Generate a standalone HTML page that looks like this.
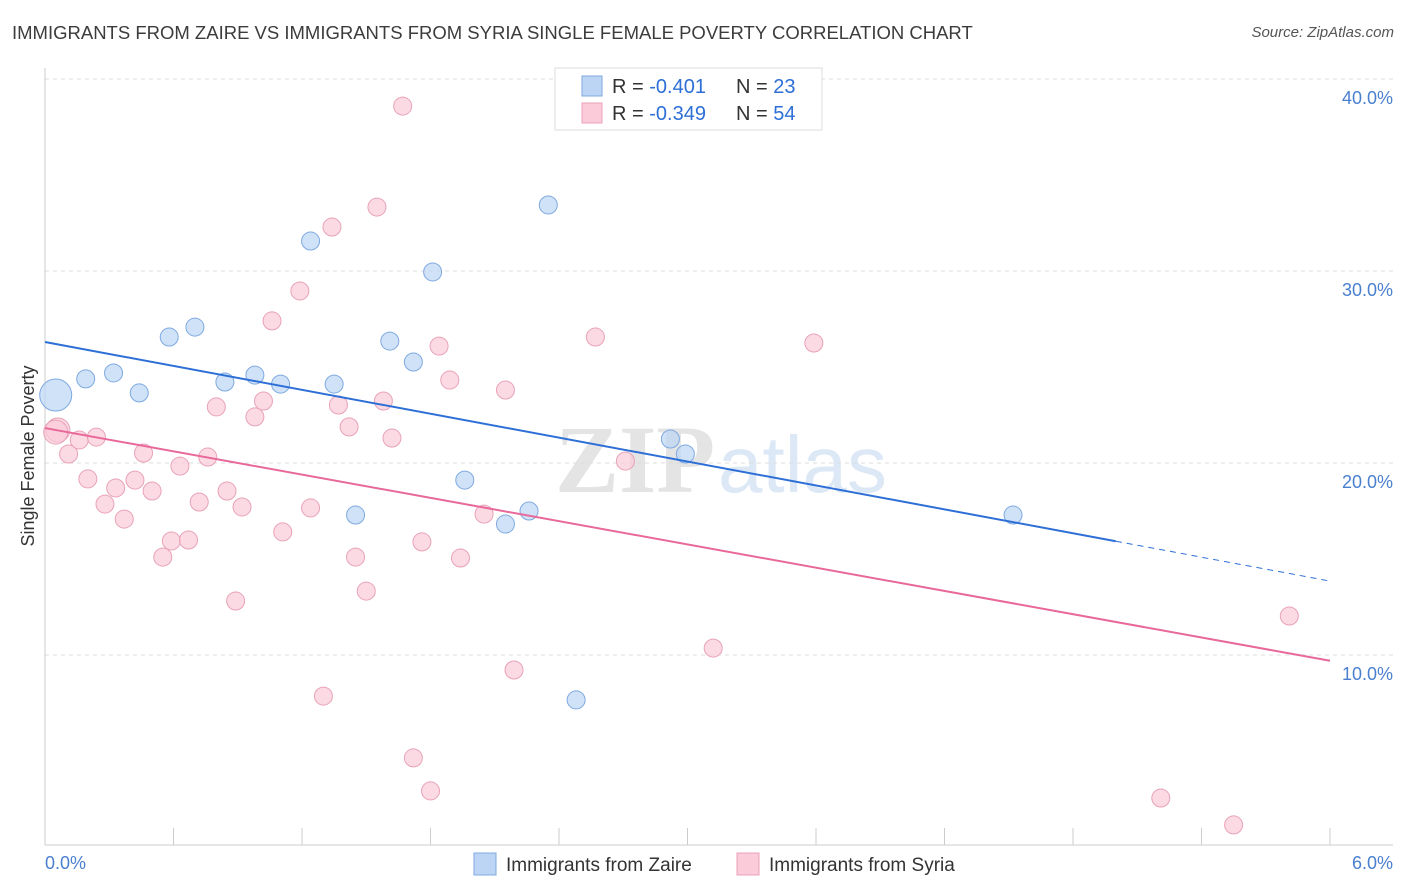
<!DOCTYPE html>
<html><head><meta charset="utf-8"><style>
body{margin:0;background:#fff;font-family:"Liberation Sans",sans-serif;}
#wrap{position:relative;width:1406px;height:892px;overflow:hidden;}
.t{position:absolute;white-space:nowrap;}
</style></head><body>
<div id="wrap">
<div class="t" style="left:12px;top:22px;font-size:18.5px;color:#3c3c3c;">IMMIGRANTS FROM ZAIRE VS IMMIGRANTS FROM SYRIA SINGLE FEMALE POVERTY CORRELATION CHART</div>
<div class="t" style="right:12px;top:24px;font-size:15px;color:#555;font-style:italic;">Source: ZipAtlas.com</div>
<svg id="svg" width="1406" height="892" style="position:absolute;left:0;top:0"></svg>
</div>
<script>
const xVals0 = [0.05,0.19,0.32,0.44,0.58,0.70,0.84,0.98,1.10,1.24,1.35,1.45,1.61,1.72,1.81,1.96,2.15,2.26,2.35,2.48,2.92,2.99,4.52];
const yVals0 = [23.54,24.38,24.69,23.65,26.56,27.08,24.22,24.58,24.11,31.56,24.11,17.29,26.35,25.26,29.95,19.11,16.82,17.50,33.44,7.66,21.25,20.47,17.29];
const xVals1 = [0.06,0.11,0.16,0.20,0.24,0.28,0.33,0.37,0.42,0.46,0.50,0.55,0.59,0.63,0.67,0.72,0.76,0.80,0.85,0.89,0.92,0.98,1.02,1.06,1.11,1.19,1.24,1.30,1.34,1.37,1.42,1.45,1.50,1.55,1.58,1.62,1.67,1.72,1.76,1.80,1.84,1.89,1.94,2.05,2.15,2.19,2.57,2.71,3.12,3.59,5.21,5.55,5.81,0.05];
const yVals1 = [21.72,20.47,21.20,19.17,21.35,17.86,18.70,17.08,19.11,20.52,18.54,15.10,15.94,19.84,15.99,17.97,20.31,22.92,18.54,12.81,17.71,22.40,23.23,27.40,16.41,28.96,17.66,7.86,32.29,23.02,21.88,15.10,13.33,33.33,23.23,21.30,38.59,4.64,15.89,2.92,26.09,24.32,15.05,17.34,23.80,9.22,26.56,20.10,10.36,26.25,2.55,1.15,12.03,21.61];
const yTicks = [10,20,30,40];
const xTickLabels = ["0.0%","6.0%"];
const trend0 = [26.30,13.85];
const trend1 = [21.82,9.70];
const legendR = ["-0.401","-0.349"];
const legendN = ["23","54"];
const seriesNames = ["Immigrants from Zaire","Immigrants from Syria"];

const X0=45,X1=1330,Y0=847,PY=19.2;
const sx=v=>X0+v/6*(X1-X0);
const sy=v=>Y0-v*PY;
const svg=document.getElementById('svg');
const NS='http://www.w3.org/2000/svg';
function mk(tag,attrs,parent){const e=document.createElementNS(NS,tag);for(const k in attrs)e.setAttribute(k,attrs[k]);(parent||svg).appendChild(e);return e;}

let wm=mk('text',{x:555,y:492,'font-size':96,'font-family':'Liberation Serif,serif','font-weight':'bold',fill:'#e4e4e4'});wm.textContent='ZIP';


let wm2=mk('text',{x:718,y:492,'font-size':80,'font-family':'Liberation Sans,sans-serif',fill:'#dce8f6'});wm2.textContent='atlas';



yTicks.forEach(t=>{
 const g=mk('line',{x1:X0,x2:1393,y1:sy(t),y2:sy(t),stroke:'#dcdcdc','stroke-dasharray':'4,4'});
 
 
 const l=mk('text',{x:1393,y:sy(t)+25,'text-anchor':'end','font-size':18,fill:'#4a7fd0'});l.textContent=t.toFixed(1)+'%';
 
 
});
mk('line',{x1:X0,x2:X0,y1:68,y2:845,stroke:'#ccc'});
mk('line',{x1:X0,x2:1393,y1:845,y2:845,stroke:'#ccc'});
for(let i=0;i<=10;i++){const x=sx(i*0.6);mk('line',{x1:x,x2:x,y1:828,y2:845,stroke:'#ccc'});}
let xl0=mk('text',{x:45,y:869,'font-size':18,fill:'#4a7fd0'});xl0.textContent=xTickLabels[0];


let xl1=mk('text',{x:1393,y:869,'text-anchor':'end','font-size':18,fill:'#4a7fd0'});xl1.textContent=xTickLabels[1];


let yt=mk('text',{x:34,y:456,'font-size':18,fill:'#333',transform:'rotate(-90 34 456)','text-anchor':'middle'});yt.textContent='Single Female Poverty';



function pts(xs,ys,fill,stroke,name){
 xs.forEach((x,i)=>{
  const r=(i===0&&name==='zaire')?16:(name==='syria'&&(i===0||i===53))?12:9;
  const c=mk('circle',{cx:sx(x),cy:sy(ys[i]),r:r,fill:fill,stroke:stroke,'stroke-width':1,'fill-opacity':0.7});
  
  
 });
}
pts(xVals1,yVals1,'#fbcbd9','#e8a2b8','syria');
pts(xVals0,yVals0,'#bcd5f5','#7ea9e0','zaire');

let t0=mk('line',{x1:sx(0),y1:sy(trend0[0]),x2:sx(5),y2:sy(trend0[0]+(trend0[1]-trend0[0])*5/6),stroke:'#2d6fd6','stroke-width':2});


let t0d=mk('line',{x1:sx(5),y1:sy(trend0[0]+(trend0[1]-trend0[0])*5/6),x2:sx(6),y2:sy(trend0[1]),stroke:'#2d6fd6','stroke-width':1,'stroke-dasharray':'6,5'});


let t1=mk('line',{x1:sx(0),y1:sy(trend1[0]),x2:sx(6),y2:sy(trend1[1]),stroke:'#e8689a','stroke-width':2});



let lb=mk('rect',{x:555,y:68,width:267,height:62,fill:'#fff',stroke:'#ddd'});


[['#bcd5f5','#7ea9e0'],['#fbcbd9','#e8a2b8']].forEach((c,i)=>{
 const y=76+i*27;
 mk('rect',{x:582,y:y,width:20,height:20,fill:c[0],stroke:c[1]});
 const t=mk('text',{x:612,y:y+17,'font-size':20,fill:'#333'});
 t.innerHTML='R = <tspan fill="#2d6fd6"> '+legendR[i]+'</tspan><tspan x="736">N = </tspan><tspan fill="#2d6fd6"> '+legendN[i]+'</tspan>';
 
 
});

[[474,'#bcd5f5','#7ea9e0'],[737,'#fbcbd9','#e8a2b8']].forEach((c,i)=>{
 const r=mk('rect',{x:c[0],y:853,width:22,height:22,fill:c[1],stroke:c[2]});
 
 
 const t=mk('text',{x:c[0]+32,y:871,'font-size':19,fill:'#333'});t.textContent=seriesNames[i];
 
 
});
</script>
</body></html>
